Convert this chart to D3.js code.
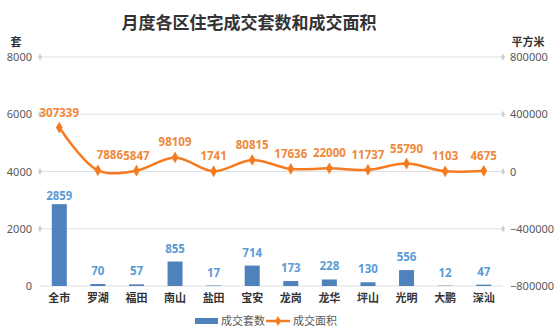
<!DOCTYPE html>
<html><head><meta charset="utf-8">
<script src="https://cdn.jsdelivr.net/npm/d3@7/dist/d3.min.js"></script>
<style>body{margin:0;background:#fff}svg{display:block;font-family:"Noto Sans CJK SC","Noto Sans",sans-serif}</style>
</head><body><svg id="c" width="560" height="336"></svg>
<script>
const categories = ["全市","罗湖","福田","南山","盐田","宝安","龙岗","龙华","坪山","光明","大鹏","深汕"];
const units = [2859,70,57,855,17,714,173,228,130,556,12,47];
const areas = [307339,7886,5847,98109,1741,80815,17636,22000,11737,55790,1103,4675];
const leftTicks = [0,2000,4000,6000,8000];
const rightTicks = [-800000,-400000,0,400000,800000];

const svg = d3.select("#c");
const L = 40, R = 503, T = 57, B = 286;
const x = d3.scaleBand().domain(categories).range([L, R]);
const yL = d3.scaleLinear().domain([0, 8000]).range([B, T]);
const yR = d3.scaleLinear().domain([-800000, 800000]).range([B, T]);
const blue = "#4f81bd", orange = "#f47b20";

svg.append("text").attr("x", 249).attr("y", 29).attr("text-anchor", "middle")
  .attr("font-size", 17).attr("font-weight", "bold").attr("fill", "#333").text("月度各区住宅成交套数和成交面积");
svg.append("text").attr("x", 16).attr("y", 46).attr("text-anchor", "middle")
  .attr("font-size", 11).attr("font-weight", "bold").attr("fill", "#333").text("套");
svg.append("text").attr("x", 528).attr("y", 46).attr("text-anchor", "middle")
  .attr("font-size", 11).attr("font-weight", "bold").attr("fill", "#333").text("平方米");

// grid
const g = svg.append("g");
leftTicks.forEach(t => {
  const y = yL(t);
  g.append("line").attr("x1", L).attr("x2", R).attr("y1", y).attr("y2", y)
    .attr("stroke", "#e0e0e0").attr("stroke-width", 1.2);
  if (t > 0) {
    g.append("path").attr("d", d3.symbol(d3.symbolDiamond, 14)()).attr("transform", `translate(${L},${y})`).attr("fill", "#d0d0d0");
    g.append("path").attr("d", d3.symbol(d3.symbolDiamond, 14)()).attr("transform", `translate(${R},${y})`).attr("fill", "#d0d0d0");
  }
});
const fmt = d3.format("d");
const axL = d3.axisLeft(yL).tickValues(leftTicks).tickFormat(fmt).tickSize(0).tickPadding(8);
const gl = svg.append("g").attr("transform", `translate(${L},0)`).call(axL);
gl.select(".domain").remove();
gl.selectAll("text").attr("font-size", 11).attr("fill", "#595959").attr("font-family", "Noto Sans, sans-serif");
const axR = d3.axisRight(yR).tickValues(rightTicks).tickFormat(fmt).tickSize(0).tickPadding(7);
const gr = svg.append("g").attr("transform", `translate(${R},0)`).call(axR);
gr.select(".domain").remove();
gr.selectAll("text").attr("font-size", 11).attr("fill", "#595959").attr("font-family", "Noto Sans, sans-serif");

// bars
const bw = 15;
svg.append("g").selectAll("rect").data(units).join("rect")
  .attr("x", (d, i) => x(categories[i]) + x.bandwidth() / 2 - bw / 2)
  .attr("y", d => yL(d)).attr("width", bw).attr("height", d => B - yL(d)).attr("fill", blue);
svg.append("g").selectAll("text").data(units).join("text")
  .attr("x", (d, i) => x(categories[i]) + x.bandwidth() / 2)
  .attr("y", (d, i) => yL(d) - (i === 0 ? 4 : 9))
  .attr("text-anchor", "middle").attr("font-size", 11.5).attr("font-weight", "bold")
  .attr("fill", "#5b9bd5").attr("font-family", "Noto Sans, sans-serif").text(d => d);

// x labels
svg.append("g").selectAll("text").data(categories).join("text")
  .attr("x", d => x(d) + x.bandwidth() / 2).attr("y", 302).attr("text-anchor", "middle")
  .attr("font-size", 11).attr("font-weight", "bold").attr("fill", "#333").text(d => d);

// line
const pts = areas.map((d, i) => [x(categories[i]) + x.bandwidth() / 2, yR(d)]);
svg.append("path").attr("d", d3.line().curve(d3.curveCatmullRom.alpha(0.5))(pts))
  .attr("fill", "none").attr("stroke", orange).attr("stroke-width", 2.5);
svg.append("g").selectAll("path").data(pts).join("path")
  .attr("d", d3.symbol(d3.symbolDiamond, 40)()).attr("transform", d => `translate(${d[0]},${d[1]})`).attr("fill", orange);
svg.append("g").selectAll("text").data(areas).join("text")
  .attr("x", (d, i) => pts[i][0] + (i === 1 ? 12 : 0))
  .attr("y", (d, i) => pts[i][1] - 11)
  .attr("text-anchor", "middle").attr("font-size", 11.5).attr("font-weight", "bold")
  .attr("fill", "#f0883a").attr("font-family", "Noto Sans, sans-serif").text(d => d);

// legend
const lg = svg.append("g");
lg.append("rect").attr("x", 195).attr("y", 318).attr("width", 23).attr("height", 6).attr("fill", blue);
lg.append("text").attr("x", 221).attr("y", 325).attr("font-size", 11).attr("fill", "#595959").text("成交套数");
lg.append("line").attr("x1", 266).attr("x2", 290).attr("y1", 321).attr("y2", 321).attr("stroke", orange).attr("stroke-width", 2.5);
lg.append("path").attr("d", d3.symbol(d3.symbolDiamond, 30)()).attr("transform", "translate(278,321)").attr("fill", orange);
lg.append("text").attr("x", 293).attr("y", 325).attr("font-size", 11).attr("fill", "#595959").text("成交面积");
</script></body></html>
